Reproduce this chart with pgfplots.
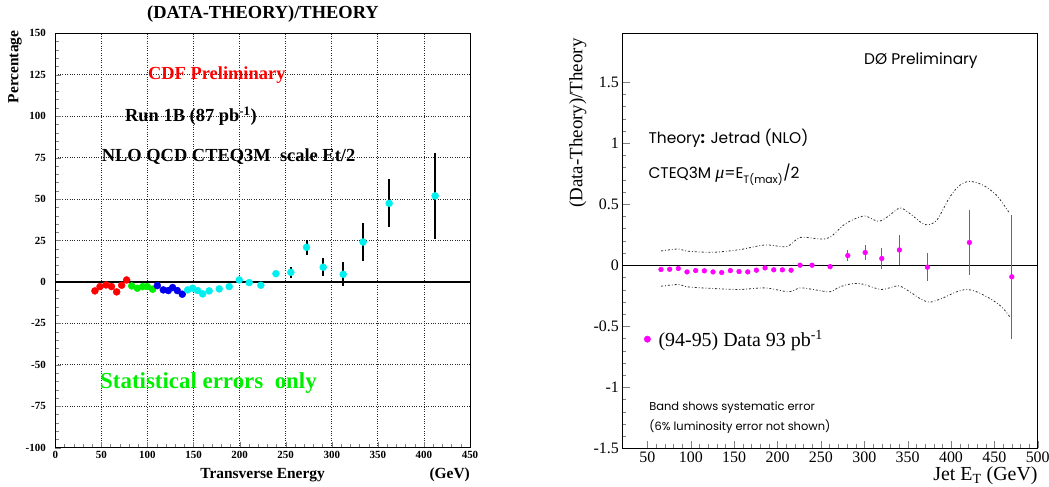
\documentclass[border=0pt]{standalone}
\usepackage{pgfplots}
\pgfplotsset{compat=1.18}
\usepackage{fontspec}
\setmainfont{Liberation Serif}
\newfontfamily\gothic{Poppins}
\definecolor{cRed}{HTML}{FF0000}
\definecolor{cGreen}{HTML}{00EE00}
\definecolor{cBlue}{HTML}{0000EE}
\definecolor{cCyan}{HTML}{00F0F0}
\definecolor{cMag}{HTML}{FF00FF}
\definecolor{cBand}{HTML}{303030}

\begin{document}
\begin{tikzpicture}[x=1bp,y=1bp]
\useasboundingbox (0,0) rectangle (1049,487);
% ---------------- left: CDF ----------------
\begin{axis}[
  at={(55.3bp,39.3bp)}, anchor=south west,
  scale only axis, width=414.7bp, height=414.4bp,
  xmin=0, xmax=450, ymin=-100, ymax=150,
  xtick={0,50,...,450}, ytick={-100,-75,...,150},
  minor x tick num=4, minor y tick num=4,
  tick align=inside, xtick pos=bottom, ytick pos=left,
  major tick length=6bp, minor tick length=3.5bp,
  grid=major, grid style={dotted, black!85, line width=0.7bp},
  axis line style={line width=1bp},
  tick label style={font=\fontsize{11}{12}\selectfont\bfseries},
  yticklabel style={xshift=-6bp},
  /pgf/number format/assume math mode=true,
  clip=false,
]
\addplot[black, line width=1.6bp] coordinates {(0,0) (450,0)};
\addplot[only marks, mark=*, mark size=3.5bp, mark options={draw=cRed, fill=cRed},
  error bars/.cd, y dir=both, y explicit, error mark=none,
  error bar style={black, line width=1.6bp}]
  table[x=x, y=y, y error=e] {
x y e
43.0 -5.4 0
48.5 -2.8 0
55.0 -1.8 0
61.0 -2.8 0
66.6 -6.0 0
72.0 -2.0 0
77.4 1.2 2.0
};
\addplot[only marks, mark=*, mark size=3.5bp, mark options={draw=cGreen, fill=cGreen}]
  coordinates {(82.9,-2.4) (89.0,-3.8) (94.8,-2.8) (99.8,-2.8) (105.6,-4.4)};
\addplot[only marks, mark=*, mark size=3.5bp, mark options={draw=cBlue, fill=cBlue}]
  coordinates {(110.7,-2.2) (117.2,-4.8) (122.6,-5.2) (127.3,-3.4) (132.4,-5.2) (137.8,-7.4)};
\addplot[only marks, mark=*, mark size=3.5bp, mark options={draw=cCyan, fill=cCyan},
  error bars/.cd, y dir=both, y explicit, error mark=none,
  error bar style={black, line width=2bp}]
  table[x=x, y=y, y error=e] {
x y e
143.6 -4.8 0
149.0 -3.8 0
154.4 -5.2 0
159.9 -7.2 0
167.0 -5.4 0
177.9 -4.2 0
188.7 -2.8 0
199.6 1.2 0
210.4 -0.4 0
223.0 -2.0 0
239.4 5.0 1.5
255.6 5.8 3.2
272.6 20.9 4.5
290.7 8.9 5.3
312.4 4.6 7.3
334.0 24.1 11.6
362.3 47.4 14.5
412.2 51.9 26.0
};
\node[font=\fontsize{18.5}{20}\selectfont\bfseries] at (rel axis cs:0.5008,1.0466) {(DATA-THEORY)/THEORY};
\node[font=\fontsize{15.5}{17}\selectfont\bfseries, rotate=90, anchor=east] at (rel axis cs:-0.097,1.015) {Percentage};
\node[font=\fontsize{15.5}{17}\selectfont\bfseries] at (rel axis cs:0.5,-0.066) {Transverse Energy};
\node[font=\fontsize{15.5}{17}\selectfont\bfseries, anchor=east, inner sep=0pt] at (rel axis cs:1.0,-0.066) {(GeV)};
\node[font=\fontsize{18.5}{20}\selectfont\bfseries, text=cRed, anchor=west, inner sep=0pt] at (axis cs:100.5,124.8) {CDF Preliminary};
\node[font=\fontsize{18.5}{20}\selectfont\bfseries, anchor=west, inner sep=0pt] at (axis cs:75.6,100.1) {Run 1B (87 pb\textsuperscript{-1})};
\node[font=\fontsize{18.5}{20}\selectfont\bfseries, anchor=west, inner sep=0pt] at (axis cs:50.3,75.6) {NLO QCD CTEQ3M\ \ scale Et/2};
\node[font=\fontsize{23}{25}\selectfont\bfseries, text=cGreen, anchor=west, inner sep=0pt] at (axis cs:48.5,-60.9) {Statistical errors\ \ only};
\end{axis}
% ---------------- right: D0 ----------------
\begin{axis}[
  at={(622.3bp,38.7bp)}, anchor=south west,
  scale only axis, width=415.4bp, height=415bp,
  xmin=21, xmax=500, ymin=-1.5, ymax=1.9,
  xtick={50,100,...,500}, ytick={-1.5,-1,...,1.5},
  yticklabels={-1.5,-1,-0.5,0,0.5,1,1.5},
  minor x tick num=4, minor y tick num=4,
  tick align=inside, xtick pos=bottom, ytick pos=left,
  major tick length=7.5bp, minor tick length=4bp,
  axis line style={line width=1bp},
  tick label style={font=\fontsize{16}{18}\selectfont},
  /pgf/number format/assume math mode=true,
  legend style={at={(rel axis cs:0.045,0.263)}, anchor=west, draw=none, fill=none,
    font=\fontsize{20}{22}\selectfont,
    /tikz/every odd column/.append style={column sep=6bp}},
  legend cell align=left,
  clip=false,
]
\addplot[black, line width=1bp, forget plot] coordinates {(21,0) (500,0)};
\addplot[cBand, line width=0.8bp, smooth, tension=0.5, forget plot,
  dash pattern=on 2bp off 2bp on 0.8bp off 2bp] coordinates {
(65.8,0.117) (85.7,0.133) (96.1,0.115) (126,0.106) (156.8,0.128) (185.6,0.166)
(210.6,0.153) (225.9,0.227) (248.9,0.215) (260.4,0.228) (275.8,0.327) (287.3,0.374)
(300.8,0.403) (316.1,0.36) (327.6,0.401) (341.1,0.469) (352.6,0.423) (369.9,0.333)
(383.4,0.368) (398.7,0.559) (410.2,0.655) (421.7,0.687) (437.1,0.655) (452.5,0.573)
(467.8,0.423)};
\addplot[cBand, line width=0.8bp, smooth, tension=0.5, forget plot,
  dash pattern=on 2bp off 2bp on 0.8bp off 2bp] coordinates {
(65.8,-0.172) (85.7,-0.158) (96.1,-0.177) (126,-0.191) (156.8,-0.199) (185.6,-0.186)
(212.9,-0.218) (225.9,-0.186) (241.2,-0.199) (260.4,-0.218) (271.8,-0.177) (287.3,-0.150)
(298.8,-0.156) (320,-0.199) (339.2,-0.169) (352.6,-0.218) (364.2,-0.273) (375.7,-0.303)
(391.1,-0.267) (406.5,-0.218) (418,-0.199) (429.6,-0.218) (444.9,-0.273) (458.4,-0.341)
(467.8,-0.423)};
\addplot[only marks, mark=*, mark size=2.4bp, mark options={draw=cMag, fill=cMag}, forget plot,
  error bars/.cd, y dir=both, y explicit, error mark=none,
  error bar style={cMag, line width=1.2bp}]
  table[x=x, y=y, y error=e] {
x y e
65.6 -0.035 0
75.6 -0.033 0
85.6 -0.027 0
95.6 -0.055 0
105.6 -0.044 0
115.6 -0.046 0
125.6 -0.055 0
135.6 -0.060 0
145.6 -0.044 0
155.6 -0.052 0
165.6 -0.055 0
175.6 -0.041 0
185.6 -0.022 0
195.6 -0.038 0
205.6 -0.038 0
215.6 -0.041 0
226.0 0.000 0
239.8 0.000 0
260.6 -0.012 0.02
281.0 0.079 0.044
301.0 0.104 0.064
320.2 0.055 0.086
340.5 0.125 0.12
372.8 -0.016 0.116
421.2 0.186 0.27
470.1 -0.095 0.51
};
\addlegendimage{only marks, mark=*, mark size=3.2bp, mark options={draw=cMag, fill=cMag}}
\addlegendentry{(94-95) Data 93 pb\textsuperscript{-1}}
\node[font=\gothic\fontsize{15.5}{17}\selectfont, anchor=west, inner sep=0pt] at (axis cs:299.6,1.68) {D\O{} Preliminary};
\node[font=\gothic\fontsize{15.5}{17}\selectfont, anchor=west, inner sep=0pt] at (axis cs:51,1.04) {Theory\textbf{:} Jetrad (NLO)};
\node[font=\gothic\fontsize{15.5}{17}\selectfont, anchor=west, inner sep=0pt] at (axis cs:51,0.74) {CTEQ3M {\rmfamily\itshape\fontsize{18}{20}\selectfont μ}=E\textsubscript{T(max)}/2};
\node[font=\gothic\fontsize{11.5}{13}\selectfont, anchor=west, inner sep=0pt] at (axis cs:52,-1.17) {Band shows systematic error};
\node[font=\gothic\fontsize{11.5}{13}\selectfont, anchor=west, inner sep=0pt] at (axis cs:52,-1.32) {(6\% luminosity error not shown)};
\node[font=\fontsize{19}{21}\selectfont, rotate=90, anchor=east] at (rel axis cs:-0.107,0.996) {(Data-Theory)/Theory};
\node[font=\fontsize{20}{22}\selectfont, anchor=base east, inner sep=0pt] at (rel axis cs:1.0,-0.0764) {Jet E\textsubscript{T} (GeV)};
\end{axis}
\end{tikzpicture}
\end{document}
